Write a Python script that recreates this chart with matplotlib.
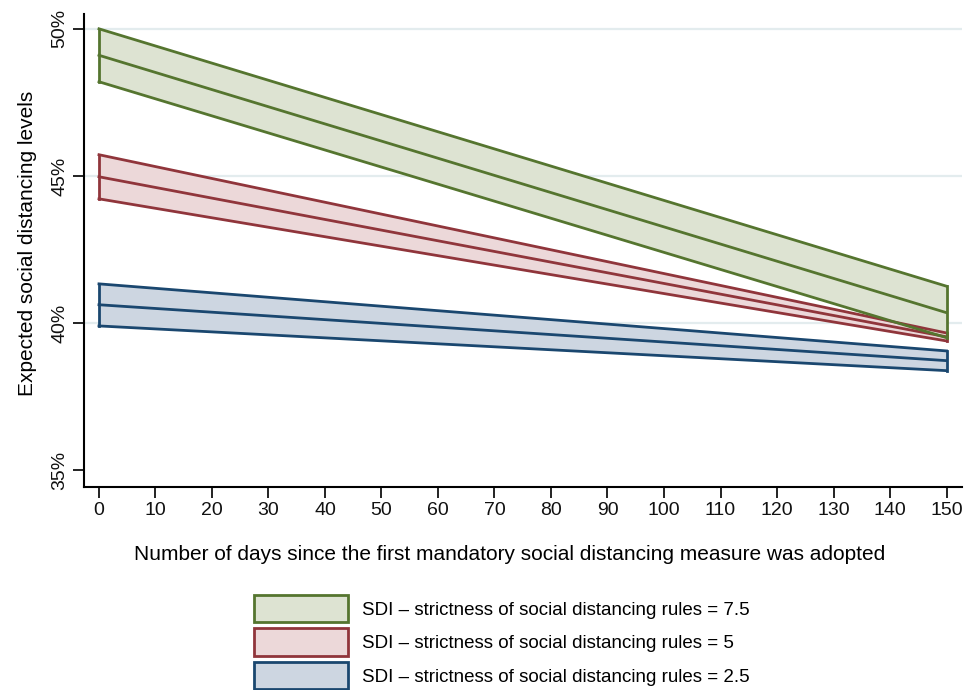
import numpy as np
import matplotlib
matplotlib.use("Agg")
import matplotlib.pyplot as plt
from matplotlib.patches import Patch
from matplotlib.ticker import FuncFormatter

# days since first measure (straight-line predictions, endpoints)
dias = [0, 150]

# expected social distancing levels (%), SDI = 7.5 / 5 / 2.5
sdi75_mid = [49.1, 40.35]
sdi75_lo = [48.2, 39.5]
sdi75_hi = [50.0, 41.25]

sdi5_mid = [44.97, 39.53]
sdi5_lo = [44.22, 39.39]
sdi5_hi = [45.72, 39.66]

sdi25_mid = [40.62, 38.72]
sdi25_lo = [39.9, 38.38]
sdi25_hi = [41.33, 39.05]

etiquetas = ["SDI \u2013 strictness of social distancing rules = 7.5",
             "SDI \u2013 strictness of social distancing rules = 5",
             "SDI \u2013 strictness of social distancing rules = 2.5"]

series = [
    (sdi75_lo, sdi75_mid, sdi75_hi, "#55752f", "#dde3d2"),
    (sdi5_lo, sdi5_mid, sdi5_hi, "#90353b", "#ecd8d9"),
    (sdi25_lo, sdi25_mid, sdi25_hi, "#1a476f", "#cdd6e1"),
]

plt.rcParams["font.family"] = ["Liberation Sans", "DejaVu Sans"]

fig = plt.figure(figsize=(9.76, 6.9), dpi=100)
ax = fig.add_axes([0.086, 0.294, 0.9, 0.686])

for y in [40, 45, 50]:
    ax.axhline(y, color="#e3ecee", lw=1.6, zorder=0)

# draw lowest band first so upper ones overlap like in the original
for lo, mid, hi, lc, fc in reversed(series):
    x = np.array(dias)
    ax.fill_between(x, lo, hi, color=fc, lw=0, zorder=2)
    ax.plot(x, lo, color=lc, lw=2, zorder=3)
    ax.plot(x, hi, color=lc, lw=2, zorder=3)
    ax.plot(x, mid, color=lc, lw=2, zorder=3)
    ax.plot([x[0], x[0]], [lo[0], hi[0]], color=lc, lw=2, zorder=3)
    ax.plot([x[-1], x[-1]], [lo[-1], hi[-1]], color=lc, lw=2, zorder=3)

ax.set_xlim(-2.66, 152.8)
ax.set_ylim(34.42, 50.51)
ax.set_xticks(np.arange(0, 151, 10))
ax.set_yticks([35, 40, 45, 50])
ax.yaxis.set_major_formatter(FuncFormatter(lambda v, p: f"{v:.0f}%"))
for lab in ax.get_yticklabels():
    lab.set_rotation(90)
    lab.set_va("center")
ax.tick_params(axis="both", direction="out", length=8, width=1.3, labelsize=14, colors="#111")
ax.tick_params(axis="x", pad=3)
ax.tick_params(axis="y", pad=3)

ax.spines["top"].set_visible(False)
ax.spines["right"].set_visible(False)
ax.spines["left"].set_linewidth(1.5)
ax.spines["bottom"].set_linewidth(1.5)

ax.set_ylabel("Expected social distancing levels", fontsize=15)
ax.set_xlabel("Number of days since the first mandatory social distancing measure was adopted",
              fontsize=15)
ax.xaxis.set_label_coords(0.485, -0.122)
ax.yaxis.set_label_coords(-0.053, 0.515)

handles = [Patch(facecolor=fc, edgecolor=lc, linewidth=2, label=et)
           for (_, _, _, lc, fc), et in zip(series, etiquetas)]
fig.legend(handles=handles, loc="upper left", bbox_to_anchor=(0.26, 0.138),
           frameon=False, fontsize=13.5, handlelength=5.05, handleheight=1.88,
           handletextpad=0.7, labelspacing=0.32, borderpad=0, borderaxespad=0)

plt.savefig("out.png", dpi=100, facecolor="white")
